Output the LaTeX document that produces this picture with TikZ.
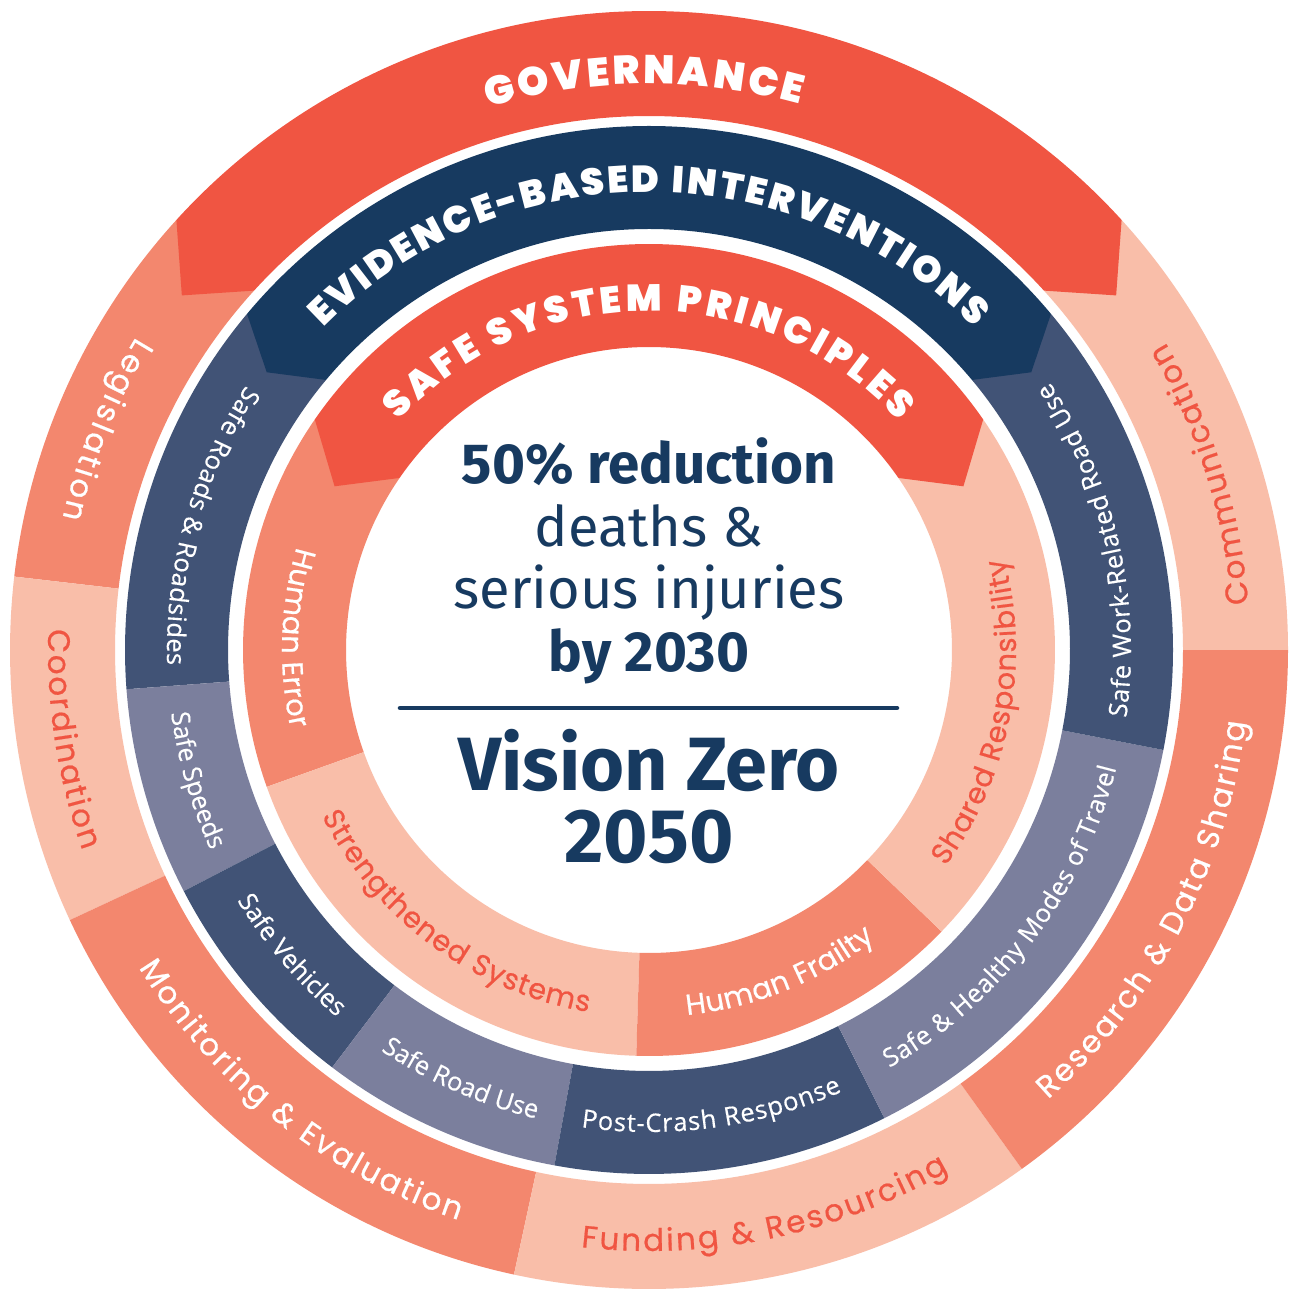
\documentclass[tikz,border=0pt]{standalone}
\usepackage{fontspec}
\usetikzlibrary{decorations.text}
\newfontfamily\headfont{Poppins Black}
\newfontfamily\labfont{Poppins}[FakeBold=0.6]
\newfontfamily\darkfont{Open Sans}[FakeBold=0.4]
\newfontfamily\ctrfont{Fira Sans}
\definecolor{cRed}{HTML}{F05542}
\definecolor{cSalmon}{HTML}{F3876E}
\definecolor{cPeach}{HTML}{F9BEA9}
\definecolor{cDeep}{HTML}{173A60}
\definecolor{cNavy}{HTML}{415376}
\definecolor{cGray}{HTML}{7B7F9D}
% annular sector: start, end, r outer, r inner, colour
\newcommand{\ringseg}[5]{%
  \fill[#5] (#1:#3) arc[start angle=#1, end angle=#2, radius=#3] -- (#2:#4)
    arc[start angle=#2, end angle=#1, radius=#4] -- cycle;}
% banner with pointed ends: left angle, right angle, r out, r in, left tip, right tip, colour
\newcommand{\bannerseg}[7]{%
  \fill[#7] (#1:#3) arc[start angle=#1, end angle=#2, radius=#3] -- (#6:{(#3+#4)/2})
    -- (#2:#4) arc[start angle=#2, end angle=#1, radius=#4] -- (#5:{(#3+#4)/2}) -- cycle;}
% text on an arc: start, end, radius, format, text
\newcommand{\arclabel}[5]{%
  \path[decorate, decoration={text along path, text align={fit to path}, text={|#4|#5}}]
    (#1:#3) arc[start angle=#1, end angle=#2, radius=#3];}
\tikzset{
  ctr/.style={anchor=base, inner sep=0pt, text=cDeep},
}
\newcommand{\outW}{\labfont\fontsize{31}{31}\selectfont\color{white}}
\newcommand{\outR}{\labfont\fontsize{31}{31}\selectfont\color{cRed}}
\newcommand{\inW}{\labfont\fontsize{29}{29}\selectfont\color{white}}
\newcommand{\inR}{\labfont\fontsize{29}{29}\selectfont\color{cRed}}
\newcommand{\dkW}{\darkfont\fontsize{25.5}{25.5}\selectfont\color{white}}
\newcommand{\hdW}[1]{\headfont\fontsize{#1}{#1}\selectfont\color{white}}
\begin{document}
\begin{tikzpicture}[x=1pt,y=1pt]
\useasboundingbox (-649,-639) rectangle (643,650);
\fill[white] (-649,-639) rectangle (643,650);

% ---------- outer ring ----------
\ringseg{137.7}{173.4}{639}{534}{cSalmon}
\ringseg{173.4}{205}{639}{534}{cPeach}
\ringseg{205}{257.8}{639}{534}{cSalmon}
\ringseg{257.8}{305.7}{639}{534}{cPeach}
\ringseg{305.7}{360}{639}{534}{cSalmon}
\ringseg{0}{42.3}{639}{534}{cPeach}
\bannerseg{137.7}{42.3}{639}{534}{142.8}{37.2}{cRed}

% ---------- middle ring ----------
\ringseg{140.1}{184.3}{524}{421}{cNavy}
\ringseg{184.3}{207.4}{524}{421}{cGray}
\ringseg{207.4}{232.8}{524}{421}{cNavy}
\ringseg{232.8}{259.6}{524}{421}{cGray}
\ringseg{259.6}{296.7}{524}{421}{cNavy}
\ringseg{296.7}{349}{524}{421}{cGray}
\ringseg{349}{399.9}{524}{421}{cNavy}
\bannerseg{140.1}{39.9}{524}{421}{144.0}{36.0}{cDeep}

% ---------- inner ring ----------
\ringseg{145.4}{199.7}{406}{303}{cSalmon}
\ringseg{199.7}{268.2}{406}{303}{cPeach}
\ringseg{268.2}{316.1}{406}{303}{cSalmon}
\ringseg{316.1}{394.6}{406}{303}{cPeach}
\bannerseg{145.4}{34.6}{406}{303}{152.5}{27.5}{cRed}

% ---------- headings ----------
\arclabel{106.5}{74.5}{566}{\hdW{40}}{GOVERNANCE}
\arclabel{135.3}{44.7}{458}{\hdW{37.5}}{EVIDENCE-BASED INTERVENTIONS}
\arclabel{137.5}{42.5}{339}{\hdW{37.5}}{SAFE SYSTEM PRINCIPLES}

% ---------- outer labels ----------
\arclabel{148.6}{167.3}{601}{\outW}{Legislation}
\arclabel{178}{199.5}{601}{\outR}{Coordination}
\arclabel{211.9}{251.5}{601}{\outW}{Monitoring {\&} Evaluation}
\arclabel{263.5}{299.9}{601}{\outR}{Funding {\&} Resourcing}
\arclabel{311.6}{353.1}{601}{\outW}{Research {\&} Data Sharing}
\arclabel{4.4}{30.8}{601}{\outR}{Communication}

% ---------- middle labels ----------
\arclabel{146.7}{181.8}{482}{\dkW}{Safe Roads {\&} Roadsides}
\arclabel{187.5}{204.2}{482}{\dkW}{Safe Speeds}
\arclabel{211.3}{229.5}{482}{\dkW}{Safe Vehicles}
\arclabel{236.2}{256}{482}{\dkW}{Safe Road Use}
\arclabel{261.9}{293.6}{482}{\dkW}{Post-Crash Response}
\arclabel{299.9}{345.8}{482}{\dkW}{Safe {\&} Healthy Modes of Travel}
\arclabel{351.9}{393.75}{482}{\dkW}{Safe Work-Related Road Use}

% ---------- inner labels ----------
\arclabel{163.7}{192.4}{367}{\inW}{Human Error}
\arclabel{206.9}{260.5}{367}{\inR}{Strengthened Systems}
\arclabel{275.95}{308}{367}{\inW}{Human Frailty}
\arclabel{323.9}{374.5}{367}{\inR}{Shared Responsibility}

% ---------- centre ----------
\node[ctr, font=\ctrfont\bfseries\fontsize{56.5}{60}\selectfont] (t1) at (0,166) {50\% reduction};
\node[ctr, font=\ctrfont\fontsize{56}{60}\selectfont] (t2) at (0,103) {deaths \&};
\node[ctr, font=\ctrfont\fontsize{56}{60}\selectfont] (t3) at (0,41) {serious injuries};
\node[ctr, font=\ctrfont\bfseries\fontsize{56.5}{60}\selectfont] (t4) at (0,-22) {by 2030};
\coordinate (l1) at (-249,-58);
\coordinate (l2) at (248,-58);
\draw[cDeep, line width=4.5pt, line cap=round] (l1) -- (l2);
\node[ctr, font=\ctrfont\bfseries\fontsize{75.5}{80}\selectfont] (t5) at (0,-140) {Vision Zero};
\node[ctr, font=\ctrfont\bfseries\fontsize{76}{80}\selectfont] (t6) at (0,-212) {2050};
\end{tikzpicture}
\end{document}
